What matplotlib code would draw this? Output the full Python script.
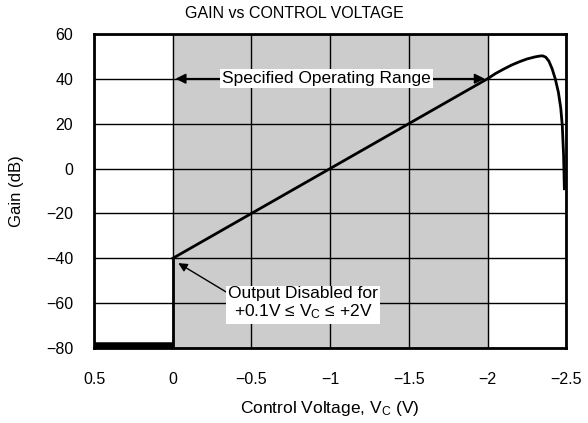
import matplotlib
matplotlib.use('Agg')
import matplotlib.pyplot as plt

plt.rcParams['font.family'] = ['Liberation Sans', 'DejaVu Sans']
plt.rcParams['mathtext.fontset'] = 'custom'
plt.rcParams['mathtext.rm'] = 'Liberation Sans'
plt.rcParams['mathtext.it'] = 'Liberation Sans'

# gain curve (control voltage, gain in dB)
vc = [0, -2.0, -2.05, -2.1, -2.15, -2.2, -2.25, -2.3, -2.33, -2.35, -2.37, -2.39,
      -2.41, -2.43, -2.45, -2.465, -2.475, -2.483, -2.488]
gain = [-40, 40, 42.3, 44.2, 46.0, 47.5, 48.8, 49.7, 50.1, 50.2, 49.6, 47.8,
        44.5, 40.0, 34.0, 27.0, 19.0, 6.0, -9.0]

# output disabled segment
off_vc = [0.5, 0]
off_gain = [-80, -80]

xticks = [0.5, 0, -0.5, -1, -1.5, -2, -2.5]
xticklabels = ['0.5', '0', '\u22120.5', '\u22121', '\u22121.5', '\u22122', '\u22122.5']
yticks = [-80, -60, -40, -20, 0, 20, 40, 60]

fig = plt.figure(figsize=(5.88, 4.23), dpi=100)
ax = fig.add_axes([0.160, 0.177, 0.803, 0.743])

ax.axvspan(0, -2, color='#cccccc', zorder=0)
ax.set_xlim(0.5, -2.5)
ax.set_ylim(-80, 60)
ax.set_xticks(xticks)
ax.set_xticklabels(xticklabels)
ax.set_yticks(yticks)
ax.set_yticklabels([str(t).replace('-', '\u2212') for t in yticks])
ax.tick_params(length=0, labelsize=11.5)
ax.tick_params(axis='x', pad=17)
ax.tick_params(axis='y', pad=15)
ax.grid(True, color='black', linewidth=1.0, zorder=1)
ax.set_axisbelow(True)
for s in ax.spines.values():
    s.set_linewidth(2)

ax.plot(vc, gain, color='black', linewidth=2, zorder=3)
ax.plot(off_vc, off_gain, color='black', linewidth=9, zorder=3, solid_capstyle='butt')
ax.plot([0, 0], [-80, -40], color='black', linewidth=2, zorder=3)

# operating range label with arrows
ax.annotate('', xy=(0, 40), xytext=(-1, 40),
            arrowprops=dict(arrowstyle='-|>', color='black', lw=1.2, mutation_scale=15), zorder=4)
ax.annotate('', xy=(-2, 40), xytext=(-1, 40),
            arrowprops=dict(arrowstyle='-|>', color='black', lw=1.2, mutation_scale=15), zorder=4)
ax.text(-0.975, 40, 'Specified Operating Range', ha='center', va='center', fontsize=12.5,
        bbox=dict(facecolor='white', edgecolor='none', pad=1.5), zorder=5)

ax.annotate('Output Disabled for\n+0.1V \u2264 V$_\\mathregular{C}$ \u2264 +2V', xy=(-0.02, -41.5),
            xytext=(-0.83, -60.3), ha='center', va='center', fontsize=12.5, linespacing=1.1,
            bbox=dict(facecolor='white', edgecolor='none', pad=1.5),
            arrowprops=dict(arrowstyle='-|>', color='black', lw=1.0, mutation_scale=13,
                            shrinkA=0, relpos=(0.0, 0.8)), zorder=5)

fig.text(0.5, 1 - 13 / 423, 'GAIN vs CONTROL VOLTAGE', ha='center', va='center', fontsize=11.5)
ax.set_xlabel('Control Voltage, V$_\\mathregular{C}$ (V)', fontsize=12.5)
ax.set_ylabel('Gain (dB)', fontsize=12)
ax.xaxis.set_label_coords(0.5, -0.191)
ax.yaxis.set_label_coords(-0.165, 0.5)
ax.xaxis.label.set_va('center')
ax.yaxis.label.set_va('center')

fig.savefig('out.png', dpi=100)
